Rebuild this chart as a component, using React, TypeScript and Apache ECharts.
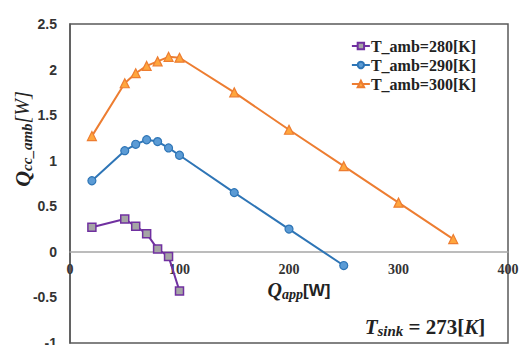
import React, { useEffect, useRef } from "react";
import * as echarts from "echarts";

const xTicks = [0, 100, 200, 300, 400];
const yTicks = [-1, -0.5, 0, 0.5, 1, 1.5, 2, 2.5];

const names = ["T_amb=280[K]", "T_amb=290[K]", "T_amb=300[K]"];

const q280: [number, number][] = [
  [20, 0.27], [50, 0.36], [60, 0.28], [70, 0.2], [80, 0.03], [90, -0.05], [100, -0.43],
];
const q290: [number, number][] = [
  [20, 0.78], [50, 1.11], [60, 1.18], [70, 1.23], [80, 1.21], [90, 1.14], [100, 1.06],
  [150, 0.65], [200, 0.25], [250, -0.15],
];
const q300: [number, number][] = [
  [20, 1.27], [50, 1.85], [60, 1.96], [70, 2.04], [80, 2.09], [90, 2.14], [100, 2.13],
  [150, 1.75], [200, 1.34], [250, 0.94], [300, 0.54], [350, 0.14],
];

export default function App() {
  const ref = useRef<HTMLDivElement>(null);
  useEffect(() => {
    if (!ref.current) return;
    const chart = echarts.init(ref.current, undefined, { renderer: "svg" });
    const serif = "Liberation Serif";
    const gridTop = 24;
    const gridBottom = 2;
    const plotH = 345 - gridTop - gridBottom;
    const yMin = yTicks[0];
    const yMax = yTicks[yTicks.length - 1];
    // shift x axis up to the y = 0 line
    const zeroOffset = -plotH * (0 - yMin) / (yMax - yMin);
    chart.setOption({
      animation: false,
      backgroundColor: "#fff",
      grid: {
        left: 70,
        right: 13,
        top: gridTop,
        bottom: gridBottom,
        show: true,
        borderColor: "#595959",
        borderWidth: 1.5,
        containLabel: false,
        outerBoundsMode: "none",
      },
      legend: {
        orient: "vertical",
        right: 40,
        top: 33,
        itemWidth: 18,
        itemHeight: 8,
        itemGap: 3,
        textStyle: { fontFamily: serif, fontWeight: "bold", fontSize: 16, color: "#222", padding: [0, 0, 0, -4] },
        data: names,
      },
      xAxis: {
        type: "value",
        min: 0,
        max: 400,
        interval: 100,
        offset: zeroOffset,
        axisLine: { onZero: false, lineStyle: { color: "#A6A6A6", width: 1.5 } },
        axisTick: { show: false },
        splitLine: { show: false },
        axisLabel: {
          fontFamily: serif,
          fontWeight: "bold",
          fontSize: 14,
          color: "#333",
          margin: 11,
          formatter: (v: number) => (xTicks.includes(v) ? String(v) : ""),
        },
      },
      yAxis: {
        type: "value",
        min: yMin,
        max: yMax,
        interval: 0.5,
        axisLine: { show: true, lineStyle: { color: "#595959", width: 1.5 } },
        axisTick: { show: false },
        splitLine: { show: false },
        axisLabel: {
          fontFamily: "Liberation Sans",
          fontWeight: "bold",
          fontSize: 14,
          color: "#333",
          margin: 13,
          formatter: (v: number) => (yTicks.includes(v) ? String(v) : ""),
        },
      },
      series: [
        {
          name: names[0],
          type: "line",
          data: q280,
          symbol: "rect",
          symbolSize: 8,
          lineStyle: { color: "#7030A0", width: 2 },
          itemStyle: { color: "#A5A5A5", borderColor: "#7030A0", borderWidth: 1.5 },
        },
        {
          name: names[1],
          type: "line",
          data: q290,
          symbol: "circle",
          symbolSize: 8,
          lineStyle: { color: "#2E75B6", width: 2 },
          itemStyle: { color: "#5B9BD5", borderColor: "#2E75B6", borderWidth: 1.2 },
        },
        {
          name: names[2],
          type: "line",
          data: q300,
          symbol: "triangle",
          symbolSize: 9,
          lineStyle: { color: "#ED7D31", width: 2 },
          itemStyle: { color: "#FFA63D", borderColor: "#ED7D31", borderWidth: 1.2 },
        },
      ],
      graphic: [
        {
          type: "text",
          x: 22,
          y: 139,
          rotation: Math.PI / 2,
          style: {
            text: "{q|Q}{s|cc_amb}{b|[W]}",
            align: "center",
            verticalAlign: "middle",
            fill: "#222",
            rich: {
              q: { fontFamily: serif, fontStyle: "italic", fontWeight: "bold", fontSize: 22, fill: "#222" },
              s: { fontFamily: serif, fontStyle: "italic", fontWeight: "bold", fontSize: 15, fill: "#222", padding: [9, 0, 0, 0] },
              b: { fontFamily: serif, fontStyle: "italic", fontSize: 20, fill: "#222" },
            },
          },
        },
        {
          type: "text",
          x: 299,
          y: 290,
          style: {
            text: "{q|Q}{s|app}{b|[W]}",
            align: "center",
            verticalAlign: "middle",
            fill: "#222",
            rich: {
              q: { fontFamily: serif, fontStyle: "italic", fontWeight: "bold", fontSize: 20, fill: "#222" },
              s: { fontFamily: serif, fontStyle: "italic", fontWeight: "bold", fontSize: 14, fill: "#222", padding: [8, 0, 0, 0] },
              b: { fontFamily: "Liberation Sans", fontWeight: "bold", fontSize: 17, fill: "#222" },
            },
          },
        },
        {
          type: "text",
          x: 425,
          y: 327,
          style: {
            text: "{q|T}{s|sink}{b| = 273[}{i|K}{b|]}",
            align: "center",
            verticalAlign: "middle",
            fill: "#222",
            rich: {
              q: { fontFamily: serif, fontStyle: "italic", fontWeight: "bold", fontSize: 21, fill: "#222" },
              s: { fontFamily: serif, fontStyle: "italic", fontWeight: "bold", fontSize: 15, fill: "#222", padding: [8, 0, 0, 0] },
              b: { fontFamily: serif, fontWeight: "bold", fontSize: 21, fill: "#222" },
              i: { fontFamily: serif, fontStyle: "italic", fontWeight: "bold", fontSize: 21, fill: "#222" },
            },
          },
        },
      ],
    });
    return () => chart.dispose();
  }, []);
  return <div ref={ref} style={{ width: 521, height: 345, position: "absolute", left: 0, top: 0 }} />;
}
